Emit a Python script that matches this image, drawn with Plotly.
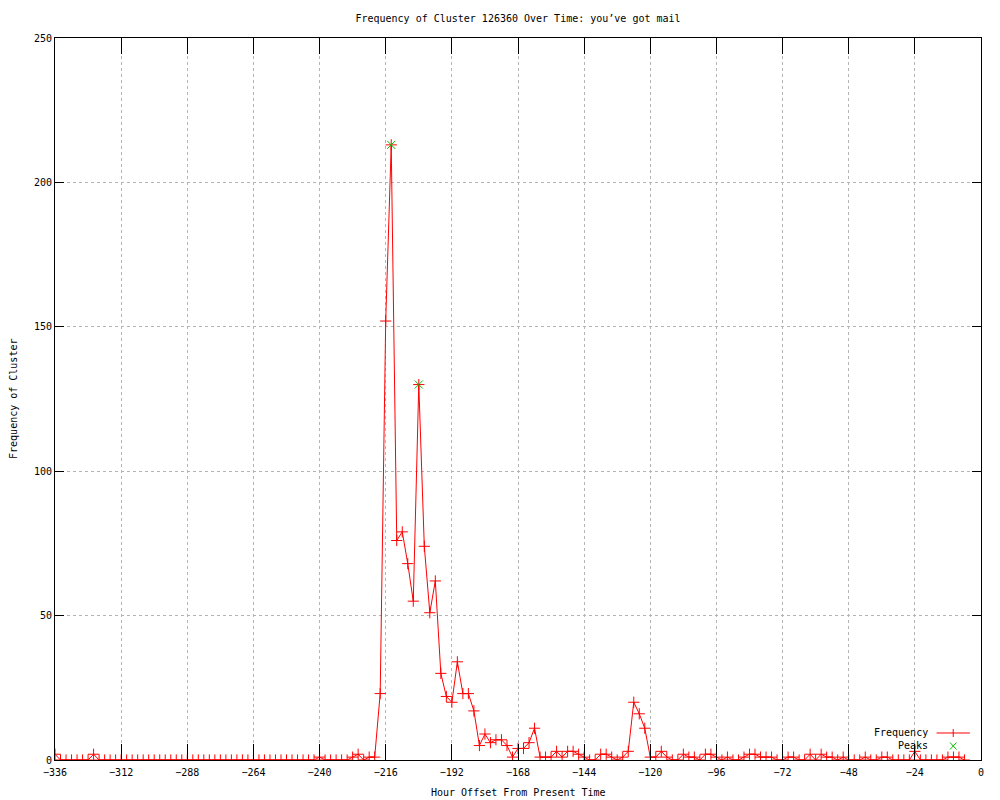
import plotly.graph_objects as go

# hour offsets, one sample every 2 hours
hours = list(range(-336, -4, 2))

freq = (
    [2]
    + [0] * 6
    + [2]
    + [0] * 40
    + [1]
    + [0] * 5
    + [1, 2, 0, 1, 1, 23, 152, 213, 76, 79, 68, 55, 130, 74, 51, 62, 30, 22, 20, 34,
       23, 23, 17, 5, 9, 6, 7, 7, 5, 1, 4, 4, 6, 11, 1, 1, 1, 3, 1, 3, 3, 2, 1, 0, 0,
       2, 2, 1, 0, 1, 3, 20, 16, 11, 1, 1, 3, 1, 0, 0, 2, 1, 1, 0, 2, 2, 1, 0, 1, 0,
       0, 1, 2, 2, 1, 1, 1, 0, 0, 1, 1, 0, 0, 2, 0, 2, 1, 1, 0, 1, 0, 0, 0, 1, 0, 0,
       1, 1, 0, 0, 0, 0, 3, 0, 0, 0, 0, 0, 1, 1, 1, 0]
)

peak_hours = [-214, -204]
peak_freq = [213, 130]

x_ticks = list(range(-336, 1, 24))
y_ticks = list(range(0, 251, 50))

FONT = "DejaVu Sans Mono"
FSIZE = 10
RED = "#ff0000"
GREEN = "#00c000"

fig = go.Figure()
fig.add_trace(go.Scatter(
    x=hours, y=freq, mode="lines+markers", name="Frequency",
    line=dict(color=RED, width=1),
    marker=dict(symbol="cross-thin", size=8, line=dict(color=RED, width=1)),
))
fig.add_trace(go.Scatter(
    x=peak_hours, y=peak_freq, mode="markers", name="Peaks",
    marker=dict(symbol="x-thin", size=8, line=dict(color=GREEN, width=1)),
))

axis_common = dict(
    showline=True, linecolor="black", linewidth=1, mirror="ticks",
    ticks="inside", tickcolor="black", tickwidth=1,
    showgrid=True, gridcolor="#b4b4b4", gridwidth=1, griddash="dot",
    zeroline=False, tickfont=dict(family=FONT, size=FSIZE, color="black"),
)
fig.update_xaxes(range=[-336, 0], tickvals=x_ticks, ticklen=16, ticklabelstandoff=3, **axis_common)
fig.update_yaxes(range=[0, 250], tickvals=y_ticks, ticklen=9, **axis_common)

# gnuplot-style key: text on the left, sample on the right
fig.add_annotation(xref="paper", yref="paper", x=0.945, y=0.0374, text="Frequency",
                   showarrow=False, xanchor="right", yanchor="middle",
                   font=dict(family=FONT, size=FSIZE, color="black"))
fig.add_annotation(xref="paper", yref="paper", x=0.945, y=0.0194, text="Peaks",
                   showarrow=False, xanchor="right", yanchor="middle",
                   font=dict(family=FONT, size=FSIZE, color="black"))
fig.add_shape(type="line", xref="paper", yref="paper", x0=0.952, x1=0.988, y0=0.0374, y1=0.0374,
              line=dict(color=RED, width=1))
fig.add_shape(type="line", xref="paper", yref="paper", x0=0.970, x1=0.970, y0=0.0319, y1=0.0429,
              line=dict(color=RED, width=1))
fig.add_shape(type="line", xref="paper", yref="paper", x0=0.9665, x1=0.9735, y0=0.0145, y1=0.0243,
              line=dict(color=GREEN, width=1))
fig.add_shape(type="line", xref="paper", yref="paper", x0=0.9665, x1=0.9735, y0=0.0243, y1=0.0145,
              line=dict(color=GREEN, width=1))

# axis titles
fig.add_annotation(xref="paper", yref="paper", x=0.5, y=-0.0457, text="Hour Offset From Present Time",
                   showarrow=False, xanchor="center", yanchor="middle",
                   font=dict(family=FONT, size=FSIZE, color="black"))
fig.add_annotation(xref="paper", yref="paper", x=-0.0454, y=0.5, text="Frequency of Cluster",
                   showarrow=False, textangle=-90, xanchor="center", yanchor="middle",
                   font=dict(family=FONT, size=FSIZE, color="black"))

# the page body adds an 8px margin, so the figure is a little smaller than the window
fig.update_layout(
    width=992, height=792,
    margin=dict(l=47, r=19, t=30, b=40),
    paper_bgcolor="white", plot_bgcolor="white",
    showlegend=False,
    title=dict(text="Frequency of Cluster 126360 Over Time: you\u2019ve got mail",
               x=0.5, xref="paper", y=1 - 10 / 792, yanchor="middle",
               font=dict(family=FONT, size=FSIZE, color="black")),
)

fig.write_html("out.html")
